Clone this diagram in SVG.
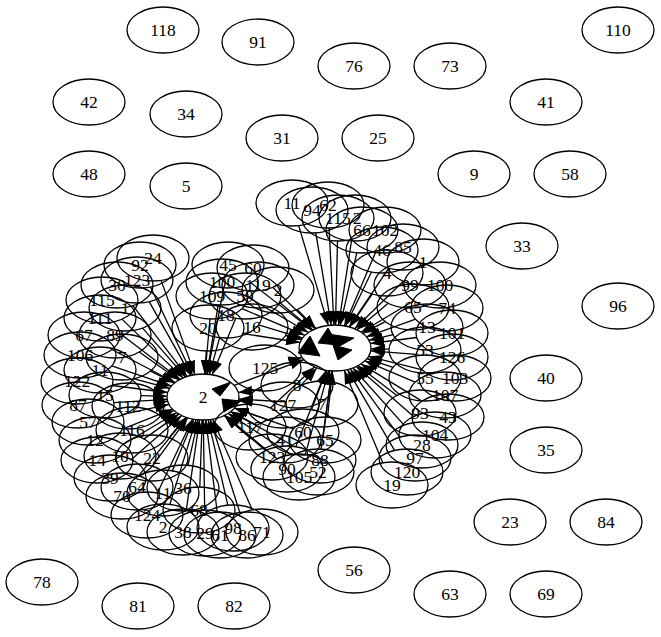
<svg xmlns="http://www.w3.org/2000/svg" width="661" height="637" viewBox="0 0 661 637">
<style>
.n ellipse{fill:none;stroke:#000;stroke-width:1.3}
.n text{font-family:"Liberation Serif","Times New Roman",serif;font-size:17.5px;text-anchor:middle;fill:#000}
.e{stroke:#000;stroke-width:1.3;fill:none;marker-end:url(#ah)}
.t{fill:#000;stroke:#000;stroke-width:1}
</style>
<defs>
<marker id="ah" markerWidth="15" markerHeight="11" refX="14" refY="5" orient="auto" markerUnits="userSpaceOnUse"><path d="M0,0 L14,5 L0,10 Z" fill="#000"/></marker>
</defs>
<rect width="661" height="637" fill="#fff"/>
<g id="edges">
<path class="e" d="M161.1,280.4L194.9,374.6"/>
<path class="e" d="M150.5,287L192.5,375"/>
<path class="e" d="M149.2,301.6L190.8,375.4"/>
<path class="e" d="M132.9,305.6L187.1,376.4"/>
<path class="e" d="M121.9,319.1L183.1,377.9"/>
<path class="e" d="M142.6,328.1L185.4,376.9"/>
<path class="e" d="M123,335.7L180,379.3"/>
<path class="e" d="M111.9,349.5L175.1,382.5"/>
<path class="e" d="M139.2,352L178.8,380"/>
<path class="e" d="M111.8,365.8L171.3,386.2"/>
<path class="e" d="M150.5,371.1L174.5,382.9"/>
<path class="e" d="M133.3,378.7L169.7,388.3"/>
<path class="e" d="M112.3,385.5L167.7,392.5"/>
<path class="e" d="M141,395.7L167,396.3"/>
<path class="e" d="M113.8,402.7L167.2,399.3"/>
<path class="e" d="M163.4,401.8L167.6,401.2"/>
<path class="e" d="M122.1,414.6L168.9,404.4"/>
<path class="e" d="M161.1,416.5L173.9,410.5"/>
<path class="e" d="M125.6,427.8L172.5,409.2"/>
<path class="e" d="M123.4,444.3L176.6,412.7"/>
<path class="e" d="M144.1,438.9L178.9,414.1"/>
<path class="e" d="M169,437.7L186,417.3"/>
<path class="e" d="M131.3,459.5L181.7,415.5"/>
<path class="e" d="M152.3,466.2L187.7,417.8"/>
<path class="e" d="M138.7,475.6L186.3,417.4"/>
<path class="e" d="M172.3,470.8L193.7,419.2"/>
<path class="e" d="M188,465.2L198,419.8"/>
<path class="e" d="M157.4,493L192.6,419"/>
<path class="e" d="M169.9,504.4L196.1,419.6"/>
<path class="e" d="M199.8,487L202.2,420"/>
<path class="e" d="M186.4,509.1L199.6,419.9"/>
<path class="e" d="M204.7,510L203.3,420"/>
<path class="e" d="M217.2,512.1L205.8,419.9"/>
<path class="e" d="M227.8,505.2L208.2,419.8"/>
<path class="e" d="M239.8,512.5L210.2,419.5"/>
<path class="e" d="M252.3,509.9L212.7,419.2"/>
<path class="e" d="M223.7,287.8L207.3,374.2"/>
<path class="e" d="M218.2,304.9L206.8,374.1"/>
<path class="e" d="M210,319L205,374"/>
<path class="e" d="M219.7,337.4L209.4,374.4"/>
<path class="e" d="M206.3,351L204.7,374"/>
<path class="e" d="M235.8,318.2L212.2,374.8"/>
<path class="e" d="M247.4,401.4L238.6,400.6"/>
<path class="e" d="M261.7,389.5L238.3,392.5"/>
<path class="e" d="M257.2,425.4L230.8,411.6"/>
<path class="e" d="M250.7,438.5L224.3,415.5"/>
<path class="e" d="M271.4,420.9L234.6,408.1"/>
<path class="e" d="M293.5,428.9L234.5,408.1"/>
<path class="e" d="M292.5,445.2L230.5,411.8"/>
<path class="e" d="M265.5,450.6L224.5,415.4"/>
<path class="e" d="M277.1,458.8L224.9,415.3"/>
<path class="e" d="M292.8,455.6L228.2,413.4"/>
<path class="e" d="M286.2,401.9L238.8,399.1"/>
<path class="e" d="M234.1,385.4L303.9,359.6"/>
<path class="e" d="M250.9,282.8L312.1,330.2"/>
<path class="e" d="M248.6,297.5L308.4,332.5"/>
<path class="e" d="M242,308.7L305,335.3"/>
<path class="e" d="M258.5,324.9L302.5,338.2"/>
<path class="e" d="M243,333.5L300,342.5"/>
<path class="e" d="M301.1,385.1L316.9,367.9"/>
<path class="e" d="M272.7,287.2L315.3,328.8"/>
<path class="e" d="M280.2,303.1L312.8,329.9"/>
<path class="e" d="M297.1,309.5L315.9,328.5"/>
<path class="e" d="M285.5,335.5L301.5,339.5"/>
<path class="e" d="M297.9,358.6L302.1,357.4"/>
<path class="e" d="M327.3,381.2L329.7,370.8"/>
<path class="e" d="M270.4,408L314.6,367"/>
<path class="e" d="M311.5,409.7L326.5,370.3"/>
<path class="e" d="M327.5,417.1L332.5,370.9"/>
<path class="e" d="M323.1,437.1L331.9,370.9"/>
<path class="e" d="M295.8,446.7L326.2,370.3"/>
<path class="e" d="M305.3,454.4L328.7,370.6"/>
<path class="e" d="M321.1,449.1L331.9,370.9"/>
<path class="e" d="M298.7,225.6L328.3,325.4"/>
<path class="e" d="M315.8,232.9L331.2,325.1"/>
<path class="e" d="M329.1,228L333.9,325"/>
<path class="e" d="M337.5,241L335.5,325"/>
<path class="e" d="M351.5,240.9L338.5,325.1"/>
<path class="e" d="M356.8,252.8L340.2,325.2"/>
<path class="e" d="M375.6,252.2L344.4,325.8"/>
<path class="e" d="M371.5,272L345.5,326"/>
<path class="e" d="M388.8,268.1L349.2,326.9"/>
<path class="e" d="M403.3,281.3L354.7,328.8"/>
<path class="e" d="M372.4,294L349.6,327"/>
<path class="e" d="M388.2,303.3L356.8,329.7"/>
<path class="e" d="M413.8,300.8L361.2,332.3"/>
<path class="e" d="M385.2,321.6L362.8,333.4"/>
<path class="e" d="M415.6,319.2L366.4,336.8"/>
<path class="e" d="M393.1,334.7L368.9,340.3"/>
<path class="e" d="M416.7,337.5L370.3,343.5"/>
<path class="e" d="M389,349.2L371,348.8"/>
<path class="e" d="M416.3,354.3L370.8,350.8"/>
<path class="e" d="M393.1,367.4L366.9,358.6"/>
<path class="e" d="M421.5,369.6L368.5,356.4"/>
<path class="e" d="M415.1,382.2L364.9,360.8"/>
<path class="e" d="M396.9,395.4L358.1,365.7"/>
<path class="e" d="M422,401.1L361,363.9"/>
<path class="e" d="M413.7,416.5L356.3,366.5"/>
<path class="e" d="M404.1,425.1L352.9,368"/>
<path class="e" d="M399.8,437.1L350.2,368.9"/>
<path class="e" d="M394.5,450.4L347.5,369.6"/>
<path class="e" d="M382.8,462.8L344.2,370.2"/>
<path class="t" d="M298,353L310,336L320,356Z"/>
<path class="t" d="M318,343L328,328L338,345Z"/>
<path class="t" d="M328,334L354,338L336,348Z"/>
<path class="t" d="M333,345L352,350L338,360Z"/>
<path class="t" d="M212,389L231,382L220,396Z"/>
<path class="t" d="M222,399L241,401L224,412Z"/>
</g>
<g id="node-118" class="n"><ellipse cx="163" cy="30" rx="36" ry="23"/><text x="163" y="36">118</text></g>
<g id="node-91" class="n"><ellipse cx="258" cy="42" rx="36" ry="23"/><text x="258" y="48">91</text></g>
<g id="node-76" class="n"><ellipse cx="354" cy="66" rx="36" ry="23"/><text x="354" y="72">76</text></g>
<g id="node-73" class="n"><ellipse cx="450" cy="66" rx="36" ry="23"/><text x="450" y="72">73</text></g>
<g id="node-110" class="n"><ellipse cx="618" cy="30" rx="36" ry="23"/><text x="618" y="36">110</text></g>
<g id="node-42" class="n"><ellipse cx="89" cy="102" rx="36" ry="23"/><text x="89" y="108">42</text></g>
<g id="node-34" class="n"><ellipse cx="186" cy="114" rx="36" ry="23"/><text x="186" y="120">34</text></g>
<g id="node-41" class="n"><ellipse cx="546" cy="102" rx="36" ry="23"/><text x="546" y="108">41</text></g>
<g id="node-31" class="n"><ellipse cx="282" cy="138" rx="36" ry="23"/><text x="282" y="144">31</text></g>
<g id="node-25" class="n"><ellipse cx="378" cy="138" rx="36" ry="23"/><text x="378" y="144">25</text></g>
<g id="node-48" class="n"><ellipse cx="89" cy="174" rx="36" ry="23"/><text x="89" y="180">48</text></g>
<g id="node-5" class="n"><ellipse cx="186" cy="186" rx="36" ry="23"/><text x="186" y="192">5</text></g>
<g id="node-9" class="n"><ellipse cx="474" cy="174" rx="36" ry="23"/><text x="474" y="180">9</text></g>
<g id="node-58" class="n"><ellipse cx="570" cy="174" rx="36" ry="23"/><text x="570" y="180">58</text></g>
<g id="node-33" class="n"><ellipse cx="522" cy="246" rx="36" ry="23"/><text x="522" y="252">33</text></g>
<g id="node-96" class="n"><ellipse cx="618" cy="306" rx="36" ry="23"/><text x="618" y="312">96</text></g>
<g id="node-40" class="n"><ellipse cx="546" cy="378" rx="36" ry="23"/><text x="546" y="384">40</text></g>
<g id="node-35" class="n"><ellipse cx="546" cy="450" rx="36" ry="23"/><text x="546" y="456">35</text></g>
<g id="node-23" class="n"><ellipse cx="510" cy="522" rx="36" ry="23"/><text x="510" y="528">23</text></g>
<g id="node-84" class="n"><ellipse cx="606" cy="522" rx="36" ry="23"/><text x="606" y="528">84</text></g>
<g id="node-56" class="n"><ellipse cx="354" cy="570" rx="36" ry="23"/><text x="354" y="576">56</text></g>
<g id="node-78" class="n"><ellipse cx="42" cy="582" rx="36" ry="23"/><text x="42" y="588">78</text></g>
<g id="node-81" class="n"><ellipse cx="138" cy="606" rx="36" ry="23"/><text x="138" y="612">81</text></g>
<g id="node-82" class="n"><ellipse cx="234" cy="606" rx="36" ry="23"/><text x="234" y="612">82</text></g>
<g id="node-63" class="n"><ellipse cx="450" cy="594" rx="36" ry="23"/><text x="450" y="600">63</text></g>
<g id="node-69" class="n"><ellipse cx="546" cy="594" rx="36" ry="23"/><text x="546" y="600">69</text></g>
<g id="node-hub2" class="n"><ellipse cx="203" cy="397" rx="36" ry="23"/><text x="203" y="403">2</text></g>
<g id="node-hubB" class="n"><ellipse cx="335" cy="348" rx="36" ry="23"/></g>
<g id="node-24" class="n"><ellipse cx="153" cy="258" rx="36" ry="23"/><text x="153" y="264">24</text></g>
<g id="node-92" class="n"><ellipse cx="140" cy="265" rx="36" ry="23"/><text x="140" y="271">92</text></g>
<g id="node-123" class="n"><ellipse cx="137" cy="280" rx="36" ry="23"/><text x="137" y="286">123</text></g>
<g id="node-30" class="n"><ellipse cx="117" cy="285" rx="36" ry="23"/><text x="117" y="291">30</text></g>
<g id="node-115" class="n"><ellipse cx="102" cy="300" rx="36" ry="23"/><text x="102" y="306">115</text></g>
<g id="node-1" class="n"><ellipse cx="125" cy="308" rx="36" ry="23"/><text x="125" y="314">1</text></g>
<g id="node-111" class="n"><ellipse cx="100" cy="318" rx="36" ry="23"/><text x="100" y="324">111</text></g>
<g id="node-67" class="n"><ellipse cx="84" cy="335" rx="36" ry="23"/><text x="84" y="341">67</text></g>
<g id="node-89" class="n"><ellipse cx="115" cy="335" rx="36" ry="23"/><text x="115" y="341">89</text></g>
<g id="node-106" class="n"><ellipse cx="80" cy="355" rx="36" ry="23"/><text x="80" y="361">106</text></g>
<g id="node-7" class="n"><ellipse cx="122" cy="357" rx="36" ry="23"/><text x="122" y="363">7</text></g>
<g id="node-11" class="n"><ellipse cx="100" cy="370" rx="36" ry="23"/><text x="100" y="376">11</text></g>
<g id="node-122" class="n"><ellipse cx="77" cy="381" rx="36" ry="23"/><text x="77" y="387">122</text></g>
<g id="node-15" class="n"><ellipse cx="105" cy="395" rx="36" ry="23"/><text x="105" y="401">15</text></g>
<g id="node-87" class="n"><ellipse cx="78" cy="405" rx="36" ry="23"/><text x="78" y="411">87</text></g>
<g id="node-112" class="n"><ellipse cx="128" cy="406" rx="36" ry="23"/><text x="128" y="412">112</text></g>
<g id="node-57" class="n"><ellipse cx="88" cy="422" rx="36" ry="23"/><text x="88" y="428">57</text></g>
<g id="node-116" class="n"><ellipse cx="132" cy="430" rx="36" ry="23"/><text x="132" y="436">116</text></g>
<g id="node-12" class="n"><ellipse cx="95" cy="440" rx="36" ry="23"/><text x="95" y="446">12</text></g>
<g id="node-14" class="n"><ellipse cx="97" cy="460" rx="36" ry="23"/><text x="97" y="466">14</text></g>
<g id="node-10" class="n"><ellipse cx="120" cy="456" rx="36" ry="23"/><text x="120" y="462">10</text></g>
<g id="node-22" class="n"><ellipse cx="152" cy="458" rx="36" ry="23"/><text x="152" y="464">22</text></g>
<g id="node-39" class="n"><ellipse cx="110" cy="478" rx="36" ry="23"/><text x="110" y="484">39</text></g>
<g id="node-64" class="n"><ellipse cx="137" cy="487" rx="36" ry="23"/><text x="137" y="493">64</text></g>
<g id="node-70" class="n"><ellipse cx="122" cy="496" rx="36" ry="23"/><text x="122" y="502">70</text></g>
<g id="node-11b" class="n"><ellipse cx="163" cy="493" rx="36" ry="23"/><text x="163" y="499">11</text></g>
<g id="node-36" class="n"><ellipse cx="183" cy="488" rx="36" ry="23"/><text x="183" y="494">36</text></g>
<g id="node-124" class="n"><ellipse cx="147" cy="515" rx="36" ry="23"/><text x="147" y="521">124</text></g>
<g id="node-2b" class="n"><ellipse cx="163" cy="527" rx="36" ry="23"/><text x="163" y="533">2</text></g>
<g id="node-68" class="n"><ellipse cx="199" cy="510" rx="36" ry="23"/><text x="199" y="516">68</text></g>
<g id="node-38" class="n"><ellipse cx="183" cy="532" rx="36" ry="23"/><text x="183" y="538">38</text></g>
<g id="node-29" class="n"><ellipse cx="205" cy="533" rx="36" ry="23"/><text x="205" y="539">29</text></g>
<g id="node-61" class="n"><ellipse cx="220" cy="535" rx="36" ry="23"/><text x="220" y="541">61</text></g>
<g id="node-98" class="n"><ellipse cx="233" cy="528" rx="36" ry="23"/><text x="233" y="534">98</text></g>
<g id="node-86" class="n"><ellipse cx="247" cy="535" rx="36" ry="23"/><text x="247" y="541">86</text></g>
<g id="node-71" class="n"><ellipse cx="262" cy="532" rx="36" ry="23"/><text x="262" y="538">71</text></g>
<g id="node-45" class="n"><ellipse cx="228" cy="265" rx="36" ry="23"/><text x="228" y="271">45</text></g>
<g id="node-100" class="n"><ellipse cx="222" cy="282" rx="36" ry="23"/><text x="222" y="288">100</text></g>
<g id="node-109" class="n"><ellipse cx="212" cy="296" rx="36" ry="23"/><text x="212" y="302">109</text></g>
<g id="node-18" class="n"><ellipse cx="226" cy="315" rx="36" ry="23"/><text x="226" y="321">18</text></g>
<g id="node-20" class="n"><ellipse cx="208" cy="328" rx="36" ry="23"/><text x="208" y="334">20</text></g>
<g id="node-59" class="n"><ellipse cx="245" cy="296" rx="36" ry="23"/><text x="245" y="302">59</text></g>
<g id="node-127" class="n"><ellipse cx="283" cy="405" rx="36" ry="23"/><text x="283" y="411">127</text></g>
<g id="node-8" class="n"><ellipse cx="297" cy="385" rx="36" ry="23"/><text x="297" y="391">8</text></g>
<g id="node-41b" class="n"><ellipse cx="285" cy="440" rx="36" ry="23"/><text x="285" y="446">41</text></g>
<g id="node-123b" class="n"><ellipse cx="272" cy="457" rx="36" ry="23"/><text x="272" y="463">123</text></g>
<g id="node-60" class="n"><ellipse cx="253" cy="268" rx="36" ry="23"/><text x="253" y="274">60</text></g>
<g id="node-119" class="n"><ellipse cx="258" cy="285" rx="36" ry="23"/><text x="258" y="291">119</text></g>
<g id="node-32" class="n"><ellipse cx="278" cy="290" rx="36" ry="23"/><text x="278" y="296">2</text></g>
<g id="node-16" class="n"><ellipse cx="252" cy="327" rx="36" ry="23"/><text x="252" y="333">16</text></g>
<g id="node-125" class="n"><ellipse cx="265" cy="368" rx="36" ry="23"/><text x="265" y="374">125</text></g>
<g id="node-7b" class="n"><ellipse cx="322" cy="404" rx="36" ry="23"/><text x="322" y="410">7</text></g>
<g id="node-117" class="n"><ellipse cx="250" cy="427" rx="36" ry="23"/><text x="250" y="433">117</text></g>
<g id="node-60b" class="n"><ellipse cx="303" cy="432" rx="36" ry="23"/><text x="303" y="438">60</text></g>
<g id="node-65b" class="n"><ellipse cx="325" cy="440" rx="36" ry="23"/><text x="325" y="446">65</text></g>
<g id="node-88" class="n"><ellipse cx="320" cy="460" rx="36" ry="23"/><text x="320" y="466">88</text></g>
<g id="node-90" class="n"><ellipse cx="287" cy="469" rx="36" ry="23"/><text x="287" y="475">90</text></g>
<g id="node-105" class="n"><ellipse cx="299" cy="477" rx="36" ry="23"/><text x="299" y="483">105</text></g>
<g id="node-52" class="n"><ellipse cx="318" cy="472" rx="36" ry="23"/><text x="318" y="478">52</text></g>
<g id="node-11c" class="n"><ellipse cx="292" cy="203" rx="36" ry="23"/><text x="292" y="209">11</text></g>
<g id="node-94" class="n"><ellipse cx="312" cy="210" rx="36" ry="23"/><text x="312" y="216">94</text></g>
<g id="node-62" class="n"><ellipse cx="328" cy="205" rx="36" ry="23"/><text x="328" y="211">62</text></g>
<g id="node-115b" class="n"><ellipse cx="338" cy="218" rx="36" ry="23"/><text x="338" y="224">115</text></g>
<g id="node-72" class="n"><ellipse cx="355" cy="218" rx="36" ry="23"/><text x="357" y="224">2</text></g>
<g id="node-66" class="n"><ellipse cx="362" cy="230" rx="36" ry="23"/><text x="362" y="236">66</text></g>
<g id="node-102" class="n"><ellipse cx="385" cy="230" rx="36" ry="23"/><text x="385" y="236">102</text></g>
<g id="node-46" class="n"><ellipse cx="382" cy="250" rx="36" ry="23"/><text x="382" y="256">46</text></g>
<g id="node-85" class="n"><ellipse cx="403" cy="247" rx="36" ry="23"/><text x="403" y="253">85</text></g>
<g id="node-1b" class="n"><ellipse cx="423" cy="262" rx="36" ry="23"/><text x="423" y="268">1</text></g>
<g id="node-4" class="n"><ellipse cx="387" cy="273" rx="36" ry="23"/><text x="387" y="279">4</text></g>
<g id="node-99" class="n"><ellipse cx="410" cy="285" rx="36" ry="23"/><text x="410" y="291">99</text></g>
<g id="node-100b" class="n"><ellipse cx="440" cy="285" rx="36" ry="23"/><text x="440" y="291">100</text></g>
<g id="node-65" class="n"><ellipse cx="413" cy="307" rx="36" ry="23"/><text x="413" y="313">65</text></g>
<g id="node-74" class="n"><ellipse cx="447" cy="308" rx="36" ry="23"/><text x="447" y="314">74</text></g>
<g id="node-13" class="n"><ellipse cx="427" cy="327" rx="36" ry="23"/><text x="427" y="333">13</text></g>
<g id="node-101" class="n"><ellipse cx="452" cy="333" rx="36" ry="23"/><text x="452" y="339">101</text></g>
<g id="node-53" class="n"><ellipse cx="425" cy="350" rx="36" ry="23"/><text x="425" y="356">53</text></g>
<g id="node-126" class="n"><ellipse cx="452" cy="357" rx="36" ry="23"/><text x="452" y="363">126</text></g>
<g id="node-55" class="n"><ellipse cx="425" cy="378" rx="36" ry="23"/><text x="425" y="384">55</text></g>
<g id="node-103" class="n"><ellipse cx="455" cy="378" rx="36" ry="23"/><text x="455" y="384">103</text></g>
<g id="node-107" class="n"><ellipse cx="445" cy="395" rx="36" ry="23"/><text x="445" y="401">107</text></g>
<g id="node-93" class="n"><ellipse cx="420" cy="413" rx="36" ry="23"/><text x="420" y="419">93</text></g>
<g id="node-43" class="n"><ellipse cx="448" cy="417" rx="36" ry="23"/><text x="448" y="423">43</text></g>
<g id="node-104" class="n"><ellipse cx="435" cy="435" rx="36" ry="23"/><text x="435" y="441">104</text></g>
<g id="node-28" class="n"><ellipse cx="422" cy="445" rx="36" ry="23"/><text x="422" y="451">28</text></g>
<g id="node-97" class="n"><ellipse cx="415" cy="458" rx="36" ry="23"/><text x="415" y="464">97</text></g>
<g id="node-120" class="n"><ellipse cx="407" cy="472" rx="36" ry="23"/><text x="407" y="478">120</text></g>
<g id="node-19" class="n"><ellipse cx="392" cy="485" rx="36" ry="23"/><text x="392" y="491">19</text></g>
</svg>
